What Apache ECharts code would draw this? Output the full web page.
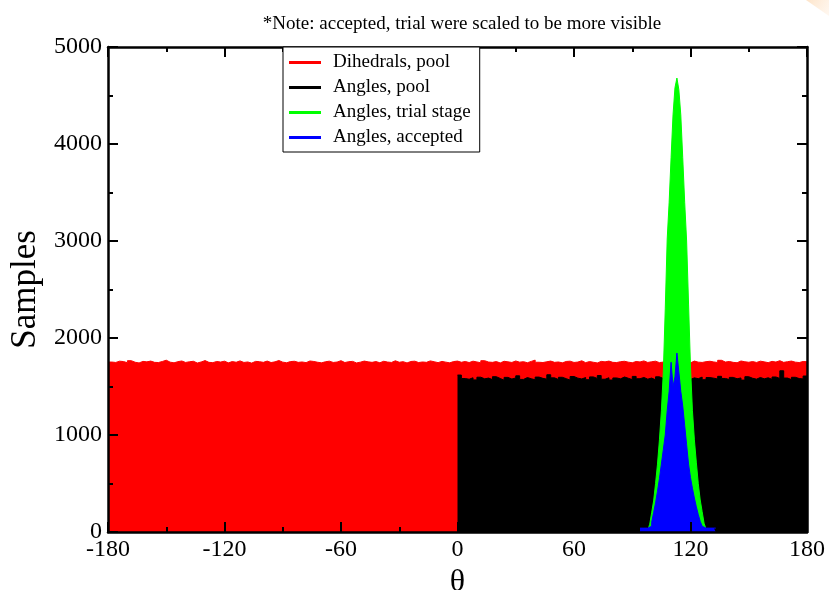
<!DOCTYPE html>
<html>
<head>
<meta charset="utf-8">
<script src="https://cdn.jsdelivr.net/npm/echarts@6/dist/echarts.min.js"></script>
<style>
  html, body { margin: 0; padding: 0; background: #fff; }
  #chart { width: 829px; height: 590px; }
</style>
</head>
<body>
<div id="chart"></div>
<script>
// Histogram counts per bin; each array starts at its own left edge (degrees).
const dihedralStart = -180, dihedralBin = 2;
const dihedralPool = [
  1752,1748,1761,1757,1745,1766,1750,1743,1759,1754,1762,1749,1747,1758,1771,1751,1744,1756,1763,1748,
  1755,1760,1742,1753,1767,1749,1746,1758,1752,1761,1744,1757,1750,1764,1748,1753,1741,1759,1756,1749,
  1762,1747,1754,1768,1751,1745,1757,1760,1749,1753,1746,1763,1758,1750,1744,1755,1761,1748,1752,1766,
  1747,1756,1759,1743,1751,1762,1754,1749,1757,1745,1760,1752,1748,1765,1750,1756,1743,1758,1761,1747,
  1753,1749,1764,1755,1746,1759,1751,1744,1757,1762,
  1750,1758,1747,1761,1753,1745,1766,1752,1749,1757,1743,1760,1754,1748,1763,1751,1756,1745,1759,1772,
  1750,1747,1755,1762,1749,1753,1744,1758,1761,1748,1752,1765,1746,1757,1750,1743,1759,1754,1762,1749,
  1747,1756,1760,1751,1745,1758,1753,1764,1748,1755,1761,1746,1752,1759,1749,1767,1754,1750,1757,1744,
  1762,1751,1748,1756,1760,1753,1747,1770,1752,1758,1749,1745,1763,1755,1750,1757,1748,1761,1754,1746,
  1759,1752,1766,1749,1756,1762,1751,1747,1758,1755
];

const angleStart = 0, angleBin = 2;
const anglePool = [
  1618,1582,1575,1590,1568,1596,1579,1587,1571,1601,1583,1565,1594,1577,1588,1610,1573,1592,1580,1569,
  1597,1584,1576,1621,1589,1572,1595,1581,1566,1603,1586,1578,1592,1570,1599,1583,1613,1575,1590,1567,
  1588,1579,1598,1585,1571,1604,1580,1593,1576,1587,1569,1600,1582,1591,1574,1596,1584,1578,1630,1573,
  1589,1581,1597,1570,1592,1586,1577,1605,1583,1572,1594,1580,1588,1566,1601,1585,1576,1593,1579,1590,
  1574,1598,1583,1662,1587,1571,1595,1582,1578,1608
];

const trialStart = 98, trialBin = 1;
const angleTrial = [
  20,80,200,320,500,700,950,1250,1650,2300,3020,3400,3860,4300,4580,4680,
  4560,4300,3860,3400,3000,2350,1700,1250,950,720,500,330,210,90,30,15
];

const acceptedStart = 94, acceptedBin = 1;
const angleAccepted = [
  40,40,40,40,40,60,100,200,300,420,550,700,850,1000,1250,1450,1750,1500,1600,1845,
  1650,1450,1300,1100,900,700,560,450,350,260,180,110,60,40,40,40,40,40,40
];

const seriesNames = ['Dihedrals, pool', 'Angles, pool', 'Angles, trial stage', 'Angles, accepted'];
const seriesColors = ['#ff0000', '#000000', '#00ff00', '#0000ff'];

// Turn bin counts into step points: one point per left edge plus a closing point.
function steps(start, width, counts) {
  const pts = counts.map((v, i) => [start + i * width, v]);
  pts.push([start + counts.length * width, counts[counts.length - 1]]);
  return pts;
}

const serif = 'Liberation Serif, Times New Roman, serif';

function histSeries(i, data) {
  return {
    name: seriesNames[i],
    type: 'line',
    step: 'end',
    data: data,
    showSymbol: false,
    symbol: 'none',
    animation: false,
    z: 2 + i,
    lineStyle: { color: seriesColors[i], width: 1 },
    itemStyle: { color: seriesColors[i] },
    areaStyle: { color: seriesColors[i], opacity: 1 }
  };
}

const frameTick = { show: true, inside: true, length: 10, lineStyle: { color: '#000', width: 2 } };
const frameMinor = { show: true, splitNumber: 2, length: 5, lineStyle: { color: '#000', width: 2 } };
const frameLine = { show: true, onZero: false, lineStyle: { color: '#000', width: 2.5 } };
const plainNumber = v => String(v);

const chart = echarts.init(document.getElementById('chart'), null, { renderer: 'canvas' });
chart.setOption({
  backgroundColor: '#ffffff',
  animation: false,
  graphic: [{
    // faint peach corner mark
    type: 'polygon',
    shape: { points: [[806, 0], [829, 0], [829, 16]] },
    style: {
      fill: new echarts.graphic.LinearGradient(0, 0, 1, 1, [
        { offset: 0, color: 'rgba(253,225,195,0.9)' },
        { offset: 1, color: 'rgba(255,240,225,0.5)' }
      ])
    },
    silent: true
  }],
  title: {
    text: '*Note: accepted, trial were scaled to be more visible',
    left: 457, top: 10, textAlign: 'center',
    textStyle: { fontFamily: serif, fontSize: 19, fontWeight: 'normal', color: '#000' }
  },
  legend: {
    orient: 'vertical',
    left: 283, top: 47,
    backgroundColor: '#fff',
    borderColor: '#000', borderWidth: 1, borderRadius: 0,
    padding: [6, 9, 5, 6],
    itemGap: 6,
    itemWidth: 32, itemHeight: 3,
    icon: 'rect',
    data: seriesNames,
    textStyle: { fontFamily: serif, fontSize: 19, color: '#000', padding: [0, 0, 0, 7] },
    z: 20
  },
  grid: { left: 108, right: 22, top: 47, bottom: 58, outerBoundsMode: 'none', containLabel: false },
  xAxis: [
    {
      type: 'value', position: 'bottom', min: -180, max: 180, interval: 60,
      name: 'θ', nameLocation: 'middle', nameGap: 30,
      nameTextStyle: { fontFamily: serif, fontSize: 32, color: '#000' },
      axisLine: frameLine, axisTick: frameTick, minorTick: frameMinor,
      axisLabel: { fontFamily: serif, fontSize: 24, color: '#000', margin: 6, formatter: plainNumber },
      splitLine: { show: false }, z: 10
    },
    {
      type: 'value', position: 'top', min: -180, max: 180, interval: 60,
      axisLine: frameLine, axisTick: frameTick, minorTick: frameMinor,
      axisLabel: { show: false }, splitLine: { show: false }, z: 10
    }
  ],
  yAxis: [
    {
      type: 'value', position: 'left', min: 0, max: 5000, interval: 1000,
      name: 'Samples', nameLocation: 'middle', nameGap: 64, nameRotate: 90,
      nameTextStyle: { fontFamily: serif, fontSize: 35, color: '#000' },
      axisLine: frameLine, axisTick: frameTick, minorTick: frameMinor,
      axisLabel: { fontFamily: serif, fontSize: 24, color: '#000', margin: 6, formatter: plainNumber },
      splitLine: { show: false }, z: 10
    },
    {
      type: 'value', position: 'right', min: 0, max: 5000, interval: 1000,
      axisLine: frameLine, axisTick: frameTick, minorTick: frameMinor,
      axisLabel: { show: false }, splitLine: { show: false }, z: 10
    }
  ],
  series: [
    histSeries(0, steps(dihedralStart, dihedralBin, dihedralPool)),
    histSeries(1, steps(angleStart, angleBin, anglePool)),
    histSeries(2, steps(trialStart, trialBin, angleTrial)),
    histSeries(3, steps(acceptedStart, acceptedBin, angleAccepted))
  ]
});
</script>
</body>
</html>
